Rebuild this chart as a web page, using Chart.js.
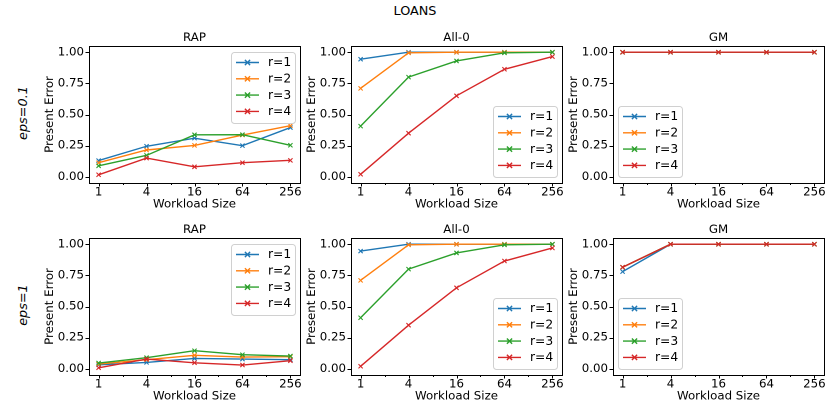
<!DOCTYPE html>
<html>
<head>
<meta charset="utf-8">
<script src="https://cdn.jsdelivr.net/npm/chart.js@4.4.1/dist/chart.umd.min.js"></script>
<style>
  html, body { margin: 0; padding: 0; background: #fff; }
  #fig { position: relative; width: 830px; height: 408px; overflow: hidden; font-family: "DejaVu Sans", sans-serif; }
  .box { position: absolute; }
  .suptitle { position: absolute; left: 0; width: 830px; top: 3px; text-align: center; font-size: 12.8px; color: #000; }
  .rowlab { position: absolute; font-size: 12.8px; font-style: italic; color: #000; transform: translate(-50%, -50%) rotate(-90deg); white-space: nowrap; }
</style>
</head>
<body>
<div id="fig">
  <div class="suptitle">LOANS</div>
  <div class="rowlab" style="left:22px; top:113px;">eps=0.1</div>
  <div class="rowlab" style="left:22px; top:305px;">eps=1</div>
</div>
<script>
// workload sizes (x axis is log2)
const workloads = [1, 4, 16, 64, 256];
const seriesNames = ["r=1", "r=2", "r=3", "r=4"];
const seriesColors = ["#1f77b4", "#ff7f0e", "#2ca02c", "#d62728"];
const yTicks = [0, 0.25, 0.5, 0.75, 1.0];
const methods = ["RAP", "All-0", "GM"];
const rowLabels = ["eps=0.1", "eps=1"];

// eps=0.1
const rapEps01 = [
  [0.13, 0.245, 0.31, 0.25, 0.395],
  [0.113, 0.215, 0.252, 0.335, 0.41],
  [0.088, 0.172, 0.337, 0.338, 0.253],
  [0.016, 0.15, 0.08, 0.113, 0.132]
];
const all0Eps01 = [
  [0.944, 1.0, 1.0, 1.0, 1.0],
  [0.71, 0.995, 1.0, 1.0, 1.0],
  [0.407, 0.80, 0.93, 0.995, 1.0],
  [0.02, 0.35, 0.65, 0.863, 0.965]
];
const gmEps01 = [
  [1.0, 1.0, 1.0, 1.0, 1.0],
  [1.0, 1.0, 1.0, 1.0, 1.0],
  [1.0, 1.0, 1.0, 1.0, 1.0],
  [1.0, 1.0, 1.0, 1.0, 1.0]
];

// eps=1
const rapEps1 = [
  [0.032, 0.051, 0.083, 0.078, 0.073],
  [0.038, 0.073, 0.108, 0.094, 0.097],
  [0.046, 0.089, 0.145, 0.113, 0.102],
  [0.008, 0.078, 0.048, 0.03, 0.065]
];
const all0Eps1 = [
  [0.945, 1.0, 1.0, 1.0, 1.0],
  [0.71, 0.995, 1.0, 1.0, 1.0],
  [0.41, 0.80, 0.93, 0.995, 1.0],
  [0.02, 0.35, 0.65, 0.865, 0.97]
];
const gmEps1 = [
  [0.78, 1.0, 1.0, 1.0, 1.0],
  [0.815, 1.0, 1.0, 1.0, 1.0],
  [0.815, 1.0, 1.0, 1.0, 1.0],
  [0.815, 1.0, 1.0, 1.0, 1.0]
];

const panels = [
  [rapEps01, all0Eps01, gmEps01],
  [rapEps1, all0Eps1, gmEps1]
];
// legend location per column
const legendLoc = ["ur", "lr", "ll"];

const FONT = "DejaVu Sans";
const FS = 11.8;
const colLeft = [89, 351, 613];
const rowTop = [46, 238];
const PW = 211, PH = 137;
const PADL = 70, PADT = 26, PADR = 8, PADB = 36;

// frame, ticks, subplot title and legend
const framePlugin = {
  id: "frame",
  afterDatasetsDraw(chart, args, opts) {
    const { ctx, chartArea: a, scales } = chart;
    ctx.save();
    ctx.strokeStyle = "#000";
    ctx.lineWidth = 1;
    ctx.beginPath();
    // y ticks
    yTicks.forEach((v) => {
      const y = Math.round(scales.y.getPixelForValue(v)) + 0.5;
      ctx.moveTo(a.left - 3.5, y);
      ctx.lineTo(a.left, y);
    });
    // x ticks (major on even powers, minor on odd)
    for (let k = 0; k <= 8; k++) {
      const x = Math.round(scales.x.getPixelForValue(k)) + 0.5;
      ctx.moveTo(x, a.bottom);
      ctx.lineTo(x, a.bottom + (k % 2 === 0 ? 3.5 : 2));
    }
    ctx.stroke();
    ctx.strokeRect(Math.round(a.left) + 0.5, Math.round(a.top) + 0.5,
      Math.round(a.right - a.left), Math.round(a.bottom - a.top));

    // title
    ctx.fillStyle = "#000";
    ctx.font = `${FS}px "${FONT}"`;
    ctx.textAlign = "center";
    ctx.textBaseline = "alphabetic";
    ctx.fillText(opts.title, (a.left + a.right) / 2, a.top - 5);

    // legend
    const lw = 64, lh = 71;
    let bx, by;
    if (opts.loc === "ur") { bx = a.right - 5 - lw; by = a.top + 6; }
    else if (opts.loc === "lr") { bx = a.right - 5 - lw; by = a.bottom - 6 - lh; }
    else { bx = a.left + 5; by = a.bottom - 6 - lh; }
    ctx.beginPath();
    ctx.roundRect(bx + 0.5, by + 0.5, lw, lh, 3);
    ctx.fillStyle = "rgba(255,255,255,0.8)";
    ctx.fill();
    ctx.strokeStyle = "#d0d0d0";
    ctx.stroke();
    seriesNames.forEach((name, i) => {
      const yy = by + 10.5 + i * 16.3;
      ctx.strokeStyle = seriesColors[i];
      ctx.lineWidth = 1.4;
      ctx.beginPath();
      ctx.moveTo(bx + 5, yy);
      ctx.lineTo(bx + 28, yy);
      const mx = bx + 16.5, r = 2.6;
      ctx.moveTo(mx - r, yy - r); ctx.lineTo(mx + r, yy + r);
      ctx.moveTo(mx - r, yy + r); ctx.lineTo(mx + r, yy - r);
      ctx.stroke();
      ctx.fillStyle = "#000";
      ctx.font = `12.3px "${FONT}"`;
      ctx.textAlign = "left";
      ctx.textBaseline = "middle";
      ctx.fillText(name, bx + 37, yy + 0.5);
    });
    ctx.restore();
  }
};

const fig = document.getElementById("fig");

panels.forEach((row, ri) => {
  row.forEach((series, ci) => {
    const wrap = document.createElement("div");
    wrap.className = "box";
    const w = PW + PADL + PADR, h = PH + PADT + PADB;
    wrap.style.left = (colLeft[ci] - PADL) + "px";
    wrap.style.top = (rowTop[ri] - PADT) + "px";
    wrap.style.width = w + "px";
    wrap.style.height = h + "px";
    const cv = document.createElement("canvas");
    wrap.appendChild(cv);
    fig.appendChild(wrap);

    const datasets = series.map((vals, i) => ({
      label: seriesNames[i],
      data: vals.map((v, j) => ({ x: Math.log2(workloads[j]), y: v })),
      borderColor: seriesColors[i],
      backgroundColor: seriesColors[i],
      borderWidth: 1.4,
      pointStyle: "crossRot",
      pointRadius: 3,
      pointBorderWidth: 1.1,
      pointHoverRadius: 3,
      tension: 0,
      order: seriesNames.length - i
    }));

    new Chart(cv, {
      type: "line",
      data: { datasets },
      options: {
        responsive: true,
        maintainAspectRatio: false,
        animation: false,
        devicePixelRatio: 2,
        layout: { padding: { left: 0, top: PADT, right: PADR, bottom: 0 }, autoPadding: false },
        plugins: {
          legend: { display: false },
          tooltip: { enabled: false },
          frame: { title: methods[ci], loc: legendLoc[ci] }
        },
        scales: {
          x: {
            type: "linear",
            min: -0.4,
            max: 8.4,
            afterBuildTicks: (s) => { s.ticks = workloads.map((v) => ({ value: Math.log2(v) })); },
            afterFit: (s) => { s.height = PADB; },
            grid: { display: false, drawTicks: false },
            border: { display: false },
            ticks: {
              color: "#000",
              font: { family: FONT, size: FS },
              padding: 2.5,
              maxRotation: 0,
              autoSkip: false,
              callback: (v) => String(Math.pow(2, v))
            },
            title: {
              display: true,
              text: "Workload Size",
              color: "#000",
              font: { family: FONT, size: FS },
              padding: { top: 0, bottom: 7.4 }
            }
          },
          y: {
            type: "linear",
            min: -0.05,
            max: 1.05,
            afterBuildTicks: (s) => { s.ticks = yTicks.map((v) => ({ value: v })); },
            afterFit: (s) => { s.width = PADL; },
            grid: { display: false, drawTicks: false },
            border: { display: false },
            ticks: {
              color: "#000",
              font: { family: FONT, size: FS },
              padding: 5,
              callback: (v) => v.toFixed(2)
            },
            title: {
              display: true,
              text: "Present Error",
              color: "#000",
              font: { family: FONT, size: FS },
              padding: { top: 24, bottom: 0 }
            }
          }
        }
      },
      plugins: [framePlugin]
    });
  });
});
</script>
</body>
</html>
